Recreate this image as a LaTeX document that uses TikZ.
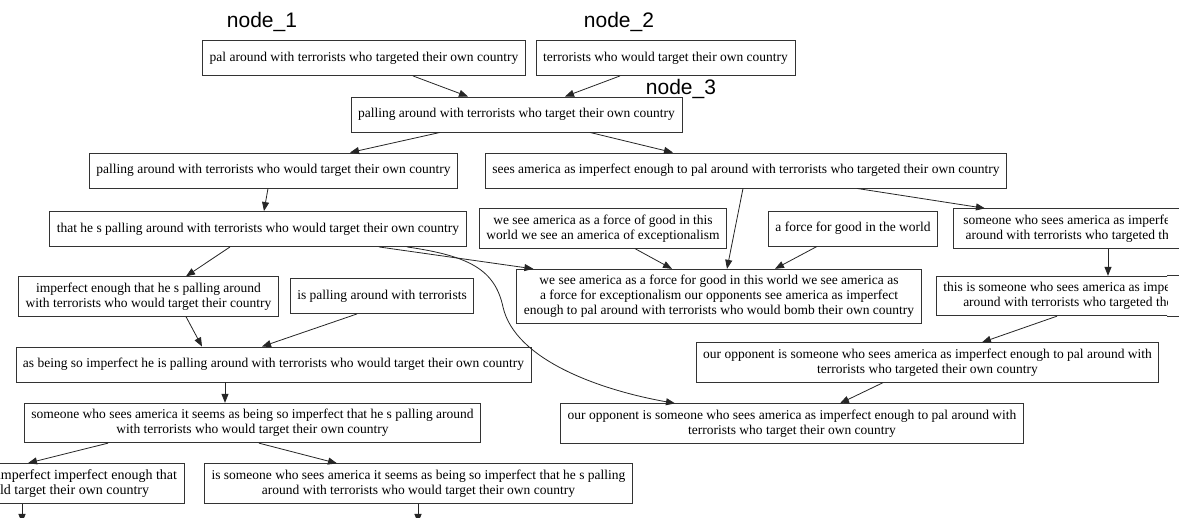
\documentclass[tikz,border=0pt]{standalone}
\usepackage{fontspec}
\setmainfont{Liberation Serif}
\newfontfamily\labelsans{Liberation Sans}
\usetikzlibrary{arrows.meta}
\begin{document}
\begin{tikzpicture}[x=1pt,y=-1pt,
  frame/.style={draw=black!80, line width=0.9pt},
  phrase/.style={frame, fill=white, align=center,
    inner xsep=7pt, inner ysep=6pt, minimum height=35pt,
    font=\fontsize{13.5}{15}\selectfont},
  link/.style={draw=black!85, line width=0.8pt, -{Triangle[length=9pt,width=7pt]}},
  tag/.style={font=\labelsans\fontsize{21}{21}\selectfont, anchor=base, inner sep=0pt}]
\useasboundingbox (0,0) rectangle (1179,518);
\fill[white] (0,0) rectangle (1179,518);
\clip (0,0) rectangle (1179,518);

% labels
\node[tag] (t1) at (262,28) {node\_1};
\node[tag] (t2) at (619,28) {node\_2};
\node[tag] (t3) at (681,95) {node\_3};

% phrase boxes
\node[phrase] (A) at (364,58) {pal around with terrorists who targeted their own country};
\node[phrase] (B) at (665.5,58) {terrorists who would target their own country};
\node[phrase] (C) at (516.5,114.5) {palling around with terrorists who target their own country};
\node[phrase] (D) at (273.5,170.5) {palling around with terrorists who would target their own country};
\node[phrase] (E) at (746,170.5) {sees america as imperfect enough to pal around with terrorists who targeted their own country};
\node[phrase] (F) at (258,229) {that he s palling around with terrorists who would target their own country};
\node[phrase] (G) at (603,228.5) {we see america as a force of good in this\\world we see an america of exceptionalism};
\node[phrase] (H) at (853,228.5) {a force for good in the world};
\node[phrase] (J) at (719,296.5) {we see america as a force for good in this world we see america as\\a force for exceptionalism our opponents see america as imperfect\\enough to pal around with terrorists who would bomb their own country};
\node[phrase] (K) at (148.5,296.5) {imperfect enough that he s palling around\\with terrorists who would target their country};
\node[phrase] (L) at (382,296) {is palling around with terrorists};
\node[phrase] (N) at (273.5,364.5) {as being so imperfect he is palling around with terrorists who would target their own country};
\node[phrase] (O) at (927.5,362.5) {our opponent is someone who sees america as imperfect enough to pal around with\\terrorists who targeted their own country};
\node[phrase] (P) at (252.5,423) {someone who sees america it seems as being so imperfect that he s palling around\\with terrorists who would target their own country};
\node[phrase] (Q) at (792,423.5) {our opponent is someone who sees america as imperfect enough to pal around with\\terrorists who target their own country};
\node[phrase, anchor=east, font=\fontsize{14}{15}\selectfont] (R) at (184.5,483.5) {as being so imperfect imperfect enough that\\he would target their own country};
\node[phrase] (S) at (418.5,483.5) {is someone who sees america it seems as being so imperfect that he s palling\\around with terrorists who would target their own country};

% the two boxes running off the right side: text stops short of the edge
\begin{scope}
  \clip (0,0) rectangle (1167,518);
  \node[phrase, anchor=west, inner xsep=10pt] (I) at (953,228.5) {someone who sees america as imperfect enough to pal\\around with terrorists who targeted their own country};
  \node[phrase, anchor=west] (M) at (936,296) {this is someone who sees america as imperfect enough to pal\\around with terrorists who targeted their own country};
\end{scope}
\coordinate (cut) at (1167,0);
\draw[frame] (I.north west -| cut) -- (I.north east);
\draw[frame] (I.south west -| cut) -- (I.south east);
\draw[frame] (M.north west -| cut) -- (M.north east);
\draw[frame] (M.south west -| cut) -- (M.south east);

% loose ends running off the lower edge
\coordinate (Rout) at (22,523);
\coordinate (Sout) at (418,523);

% connectors
\draw[link] ([xshift=49pt]A.south) -- ([xshift=-48.5pt]C.north);
\draw[link] ([xshift=-45.5pt]B.south) -- ([xshift=48.5pt]C.north);
\draw[link] ([xshift=-76.5pt]C.south) -- ([xshift=76.5pt]D.north);
\draw[link] ([xshift=73.5pt]C.south) -- ([xshift=-73pt]E.north);
\draw[link] ([xshift=-5.5pt]D.south) -- ([xshift=6pt]F.north);
\draw[link] ([xshift=-3pt]E.south) -- ([xshift=8pt]J.north);
\draw[link] ([xshift=111pt]E.south) -- ([xshift=32pt]I.north west);
\draw[link] ([xshift=121pt]F.south) -- ([xshift=17pt]J.north west);
\draw[link] ([xshift=149pt]F.south) .. controls (470,256) and (495,270) .. (503,307)
            .. controls (515,360) and (600,390) .. ([xshift=-117pt]Q.north);
\draw[link] ([xshift=-28pt]F.south) -- ([xshift=37.5pt]K.north);
\draw[link] ([xshift=32pt]G.south) -- ([xshift=-47pt]J.north);
\draw[link] ([xshift=-36pt]H.south) -- ([xshift=56pt]J.north);
\draw[link] ([xshift=155pt]I.south west) -- ([xshift=172pt]M.north west);
\draw[link] ([xshift=37.5pt]K.south) -- ([xshift=-71.5pt]N.north);
\draw[link] ([xshift=-25pt]L.south) -- ([xshift=-11.5pt]N.north);
\draw[link] ([xshift=121pt]M.south west) -- ([xshift=54.5pt]O.north);
\draw[link] ([xshift=-48.5pt]N.south) -- ([xshift=-27.5pt]P.north);
\draw[link] ([xshift=-44.5pt]O.south) -- ([xshift=48pt]Q.north);
\draw[link] ([xshift=-144.5pt]P.south) -- ([xshift=-156.5pt]R.north east);
\draw[link] ([xshift=6.5pt]P.south) -- ([xshift=-81.5pt]S.north);
\draw[link] (R.south -| Rout) -- (Rout);
\draw[link] (S.south -| Sout) -- (Sout);
\end{tikzpicture}
\end{document}
